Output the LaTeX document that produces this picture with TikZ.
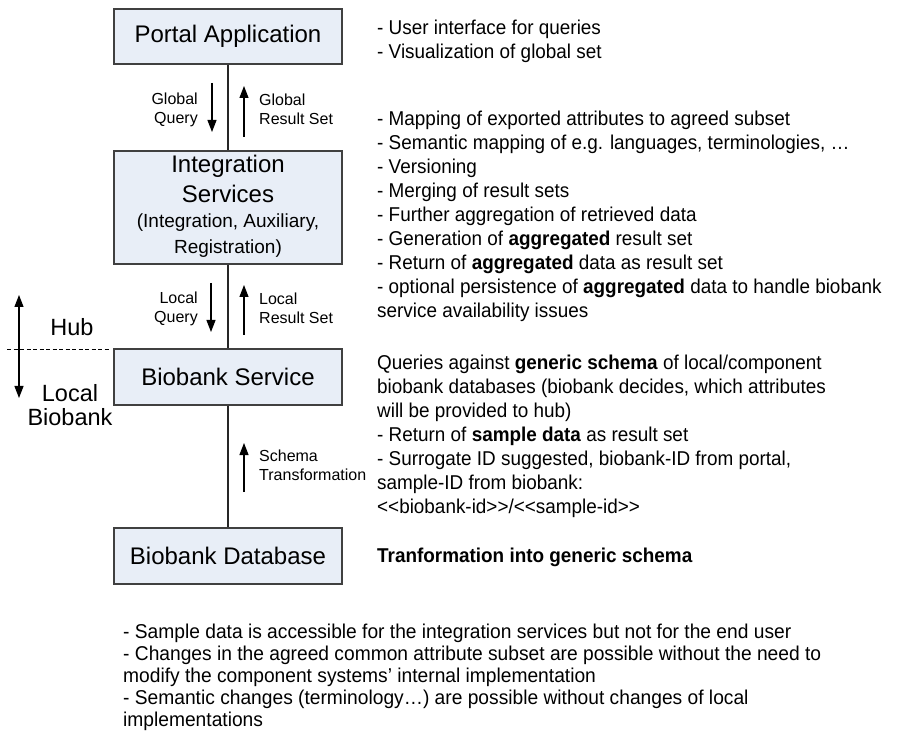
\documentclass[tikz,border=0pt]{standalone}
\usepackage{fontspec}
\setmainfont{Liberation Sans}[Ligatures=TeXOff]
\newfontfamily\notefont{Liberation Sans}[Ligatures=TeXOff, FakeStretch=0.945]
\newfontfamily\remarkfont{Liberation Sans}[Ligatures=TeXOff, FakeStretch=0.96]
\usetikzlibrary{arrows.meta}
\definecolor{boxfill}{RGB}{232,238,247}
\definecolor{boxline}{RGB}{64,64,64}
\newcommand\txtblock[1]{\begin{tabular}{@{}l@{}}#1\end{tabular}}
\begin{document}
\begin{tikzpicture}[x=1pt,y=-1pt,
  layer/.style={draw=boxline, fill=boxfill, line width=1.2pt, minimum width=228pt,
    inner sep=0pt, font=\fontsize{24}{28}\selectfont},
  link/.style={line width=1.2pt, draw=black!85},
  flow/.style={line width=1.2pt, -{Triangle[length=12pt,width=9pt]}},
  flowboth/.style={line width=1.2pt, {Triangle[length=12pt,width=9pt]}-{Triangle[length=12pt,width=9pt]}},
  smalllabel/.style={font=\fontsize{16}{19}\selectfont, inner sep=0pt},
  biglabel/.style={font=\fontsize{23.5}{24}\selectfont, inner sep=0pt, align=center},
  note/.style={font=\notefont\fontsize{20}{24}\selectfont, inner sep=0pt, anchor=north west},
  footnote/.style={font=\remarkfont\fontsize{20}{22}\selectfont, inner sep=0pt, anchor=north west}]
\useasboundingbox[fill=white] (0,0) rectangle (914,738);

% layers of the architecture
\node[layer, minimum height=55pt] (portal) at (228,36.5) {Portal Application};
\node[layer, minimum height=113pt] (integ) at (228,207.5)
  {\begin{tabular}{@{}c@{}}Integration\\[2pt] Services\\[-3.5pt]
   \fontsize{19}{26}\selectfont (Integration, Auxiliary,\\[-2pt]
   \fontsize{19}{26}\selectfont Registration)\end{tabular}};
\node[layer, minimum height=56pt] (service) at (228,377) {Biobank Service};
\node[layer, minimum height=56pt] (database) at (228,556) {Biobank Database};

% vertical links between layers
\draw[link] (portal) -- (integ);
\draw[link] (integ) -- (service);
\draw[link] (service) -- (database);

% query / result flows
\coordinate (gqa) at (212,83);  \coordinate (gqb) at (212,132);
\coordinate (gra) at (244,137); \coordinate (grb) at (244,86);
\coordinate (lqa) at (211,283); \coordinate (lqb) at (211,332);
\coordinate (lra) at (244,335); \coordinate (lrb) at (244,285);
\coordinate (sta) at (244,492); \coordinate (stb) at (244,443);
\draw[flow] (gqa) -- (gqb);
\draw[flow] (gra) -- (grb);
\draw[flow] (lqa) -- (lqb);
\draw[flow] (lra) -- (lrb);
\draw[flow] (sta) -- (stb);

\node[smalllabel, align=right, anchor=east] (gqlabel) at (198,109.5) {Global\\Query};
\node[smalllabel, align=left, anchor=west] (grlabel) at (259,109.5) {Global\\Result Set};
\node[smalllabel, align=right, anchor=east] (lqlabel) at (198,308.5) {Local\\Query};
\node[smalllabel, align=left, anchor=west] (lrlabel) at (259,308.5) {Local\\Result Set};
\node[smalllabel, align=left, anchor=west] (stlabel) at (259,465.5) {Schema\\Transformation};

% hub / local biobank boundary
\coordinate (hubtop) at (19,295); \coordinate (hubbot) at (19,398);
\draw[flowboth] (hubtop) -- (hubbot);
\coordinate (cutl) at (7,349); \coordinate (cutr) at (109,349);
\draw[line width=0.9pt, dashed, dash pattern=on 4pt off 2.5pt] (cutl) -- (cutr);
\node[biglabel] (hub) at (72,327) {Hub};
\node[biglabel] (localbb) at (70,405) {Local\\Biobank};

% descriptions of each layer
\node[note] (portalnote) at (377,17.2) {\txtblock{%
- User interface for queries\\
- Visualization of global set}};
\node[note] (integnote) at (377,108.4) {\txtblock{%
- Mapping of exported attributes to agreed subset\\
- Semantic mapping of e.g. languages, terminologies, …\\
- Versioning\\
- Merging of result sets\\
- Further aggregation of retrieved data\\
- Generation of \textbf{aggregated} result set\\
- Return of \textbf{aggregated} data as result set\\
- optional persistence of \textbf{aggregated} data to handle biobank\\
service availability issues}};
\node[note] (servicenote) at (377,352.4) {\txtblock{%
Queries against \textbf{generic schema} of local/component\\
biobank databases (biobank decides, which attributes\\
will be provided to hub)\\
- Return of \textbf{sample data} as result set\\
- Surrogate ID suggested, biobank-ID from portal,\\
sample-ID from biobank:\\
<<biobank-id>>/<<sample-id>>}};
\node[note] (dbnote) at (377,545.4) {\txtblock{\textbf{Tranformation into generic schema}}};

% general remarks
\node[footnote] (remarks) at (123,623) {\txtblock{%
- Sample data is accessible for the integration services but not for the end user\\
- Changes in the agreed common attribute subset are possible without the need to\\
modify the component systems’ internal implementation\\
- Semantic changes (terminology…) are possible without changes of local\\
implementations}};
\end{tikzpicture}
\end{document}
